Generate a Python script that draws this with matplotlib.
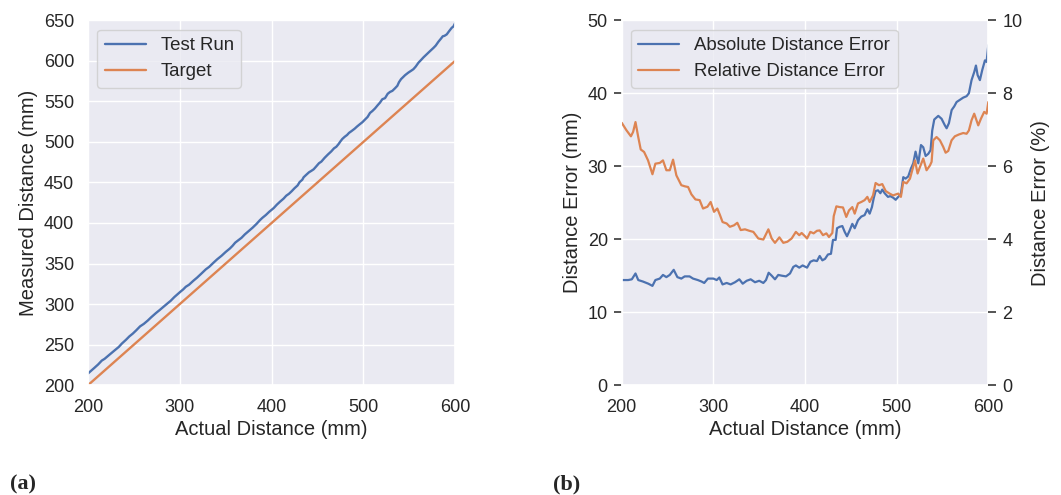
import matplotlib

matplotlib.use("Agg")
import matplotlib.pyplot as plt
import seaborn as sns

# absolute error trace (blue)
actual = [200, 207, 211, 215, 218, 223, 229, 233.5, 236.7, 241.5, 245, 248.7,
          252.4, 256.7, 260.7, 265, 268.7, 274, 277.8, 283, 287, 290, 294, 297.8,
          300, 303.6, 306.5, 310, 314.5, 318.8, 323.6, 328.3, 332, 336.3, 340.7,
          345.4, 350, 354.5, 357.4, 360.3, 363.6, 367.2, 370.8, 374.5, 379.2,
          383.6, 387.2, 390, 393.7, 397.4, 402.2, 405.8, 409.4, 413, 416, 418.9,
          421.8, 425, 428.3, 430.5, 433.4, 434.9, 437.8, 440.7, 443.3, 445.8,
          448.7, 451.6, 454.2, 457.8, 461.4, 465, 468, 470.5, 473, 474.9, 477,
          479.6, 482.2, 484.3, 486.9, 490.5, 493, 496, 498.9, 501.7, 504.6, 507.2,
          509.7, 512.6, 515.6, 518.1, 520.6, 523.6, 526.5, 529, 531.6, 534.5, 537,
          538.8, 541, 545.4, 549, 552.6, 554.5, 557, 560, 562.8, 565.4, 569, 572.6,
          576.3, 578.8, 581.7, 584.6, 586.5, 588.3, 590.8, 593.4, 596.3, 598.1, 600]
abs_error = [14.4, 14.4, 14.5, 15.3, 14.4, 14.2, 13.9, 13.6, 14.4, 14.6, 15.1, 14.8,
             15.1, 15.8, 14.8, 14.6, 14.9, 14.9, 14.6, 14.4, 14.2, 14.0, 14.6, 14.6,
             14.6, 14.4, 14.75, 13.8, 14.0, 13.8, 14.1, 14.5, 13.9, 14.3, 14.5,
             14.1, 14.3, 14.0, 14.4, 15.4, 15.0, 14.5, 15.1, 15.0, 14.9,
             15.3, 16.2, 16.4, 16.1, 16.4, 16.1, 16.9, 17.1, 17.0, 17.7, 17.1,
             17.3, 17.9, 18.0, 19.9, 19.9, 21.5, 21.7, 21.8, 21.0, 20.4,
             21.2, 22.1, 21.5, 22.6, 23.1, 23.3, 24.1, 23.5, 24.4, 25.6, 26.6,
             26.7, 26.3, 26.8, 26.3, 25.8, 25.9, 25.7, 25.4, 25.8, 26.2, 28.5,
             28.3, 28.6, 29.7, 30.4, 32.0, 30.4, 32.9, 32.6, 31.4, 31.7, 32.2,
             34.9, 36.4, 36.9, 36.5, 35.6, 35.2, 35.9, 37.7, 38.2, 38.8, 39.1, 39.4,
             39.6, 40.0, 41.8, 42.9, 43.8, 42.5, 41.8, 43.2, 44.5, 44.3, 46.6]

# measured distance for the test run (left panel), same actual positions
measured = [214.4, 221.4, 225.5, 230.3, 232.4, 237.2, 242.9, 247.1, 251.1, 256.1,
            260.1, 263.5, 267.5, 272.5, 275.5, 279.6, 283.6, 288.9, 292.4, 297.4,
            301.2, 304.0, 308.6, 312.4, 314.6, 318.0, 321.3, 323.8, 328.5, 332.6,
            337.7, 342.8, 345.9, 350.6, 355.2, 359.5, 364.3, 368.5, 371.8, 375.7,
            378.6, 381.7, 385.9, 389.5, 394.1, 398.9, 403.4, 406.4, 409.8, 413.8,
            418.3, 422.7, 426.5, 430.0, 433.7, 436.0, 439.1, 442.9, 446.3, 450.4,
            453.3, 456.4, 459.5, 462.5, 464.3, 466.2, 469.9, 473.7, 475.7, 480.4,
            484.5, 488.3, 492.1, 494.0, 497.4, 500.5, 503.6, 506.3, 508.5, 511.1,
            513.2, 516.3, 518.9, 521.7, 524.3, 527.5, 530.8, 535.7, 538.0, 541.2,
            545.3, 548.5, 552.6, 554.0, 559.4, 561.6, 563.0, 566.2, 569.2, 573.7,
            577.4, 582.3, 585.5, 588.2, 589.7, 592.9, 597.7, 601.0, 604.2, 608.1,
            612.0, 615.9, 618.8, 623.5, 627.5, 630.3, 630.8, 632.6, 636.6, 640.8,
            642.4, 646.6]

target_x = [200, 600]
target_y = [200, 600]

# relative error trace (orange)
rel_x = [200, 205, 210, 212.4, 215, 218, 220.7, 224.4, 228.7, 233.5, 236.7, 241.5,
         245, 248.7, 252.4, 256, 259.6, 265, 268.7, 272.4, 276, 280.4, 285, 288.7,
         293.5, 297, 300.7, 304.3, 307.2, 310, 314.5, 318, 322.5, 326.1, 329.8,
         334.5, 339.2, 343.6, 349, 354.5, 360, 363.6, 367.2, 372, 376.3, 380.7,
         385.4, 390, 393.7, 396.3, 400, 402.2, 405.8, 409.4, 413, 416, 419.6,
         423.3, 426.1, 429.8, 431.3, 434.2, 437.8, 441.4, 445, 448, 451.6, 454.2,
         457.8, 461.4, 465, 468, 470.5, 474.2, 477, 480.7, 484.3, 488, 492.3, 496,
         501.7, 504.6, 507.2, 510.8, 514.5, 517, 520, 522.8, 525.4, 529, 532.6,
         536.3, 538.1, 539.9, 543.5, 547.2, 550.8, 553.4, 556.3, 559.9, 563.5,
         567.9, 572.6, 576.3, 578.8, 581.7, 584.6, 586.8, 589, 591.9, 595.5,
         598.1, 600]
rel_error = [7.19, 6.99, 6.82, 6.94, 7.21, 6.80, 6.46, 6.39, 6.16, 5.78, 6.07, 6.09,
             6.16, 5.89, 5.89, 6.18, 5.75, 5.48, 5.45, 5.43, 5.23, 5.09, 5.07, 4.84,
             4.89, 5.02, 4.75, 4.84, 4.66, 4.47, 4.43, 4.34, 4.38, 4.45, 4.25,
             4.27, 4.23, 4.20, 4.02, 3.99, 4.27, 4.02, 3.90, 4.05, 3.90, 3.93,
             4.02, 4.20, 4.11, 4.17, 4.08, 4.02, 4.20, 4.16, 4.23, 4.24, 4.11,
             4.16, 4.06, 4.17, 4.63, 4.90, 4.88, 4.87, 4.61, 4.79, 4.88, 4.70,
             4.98, 5.02, 5.07, 5.16, 5.02, 5.20, 5.54, 5.48, 5.51, 5.32, 5.25, 5.20,
             5.25, 5.16, 5.57, 5.53, 5.66, 5.89, 6.16, 5.80, 5.98, 6.21, 5.89,
             6.02, 6.12, 6.71, 6.80, 6.71, 6.53, 6.37, 6.42, 6.71, 6.82,
             6.87, 6.91, 6.89, 6.98, 7.26, 7.44, 7.28, 7.12, 7.30, 7.49,
             7.44, 7.76]

sns.set_theme(style="darkgrid", font_scale=1.2)
plt.rcParams["font.family"] = ["Liberation Sans", "DejaVu Sans"]

blue, orange = sns.color_palette("deep")[:2]

fig = plt.figure(figsize=(10.61, 4.95), dpi=100)
ax1 = fig.add_axes([0.083, 0.222, 0.346, 0.737])
ax2 = fig.add_axes([0.586, 0.222, 0.3455, 0.737])

# (a) measured vs actual
ax1.plot(actual, measured, color=blue, lw=1.7, label="Test Run")
ax1.plot(target_x, target_y, color=orange, lw=1.7, label="Target")
ax1.set_xlim(200, 600)
ax1.set_ylim(200, 650)
ax1.set_xticks(range(200, 601, 100))
ax1.set_yticks(range(200, 651, 50))
ax1.set_xlabel("Actual Distance (mm)", fontsize=14.5, labelpad=3)
ax1.set_ylabel("Measured Distance (mm)", fontsize=14.5, labelpad=4)
ax1.tick_params(labelsize=13, pad=4)
ax1.legend(loc="upper left", fontsize=13.4, handlelength=2.2)

# (b) absolute and relative error
l1, = ax2.plot(actual, abs_error, color=blue, lw=1.6, label="Absolute Distance Error")
ax3 = ax2.twinx()
l2, = ax3.plot(rel_x, rel_error, color=orange, lw=1.6, label="Relative Distance Error")
ax3.grid(False)
ax2.set_xlim(200, 600)
ax2.set_ylim(0, 50)
ax3.set_ylim(0, 10)
ax2.set_xticks(range(200, 601, 100))
ax2.set_yticks(range(0, 51, 10))
ax3.set_yticks(range(0, 11, 2))
ax2.set_xlabel("Actual Distance (mm)", fontsize=14.5, labelpad=3)
ax2.set_ylabel("Distance Error (mm)", fontsize=14.5, labelpad=4)
ax3.set_ylabel("Distance Error (%)", fontsize=14.5, labelpad=6)
ax2.tick_params(axis="both", labelsize=13, pad=4)
ax2.tick_params(axis="y", left=True, length=6, width=1.1, color="#262626")
ax3.tick_params(axis="y", right=True, labelsize=13, length=6, width=1.1,
                color="#262626", pad=4)
for s in ax3.spines.values():
    s.set_visible(False)
ax3.legend([l1, l2], [l1.get_label(), l2.get_label()], loc="upper left",
           fontsize=13.4, handlelength=2.2)

fig.text(0.009, 0.012, "(a)", fontsize=16, fontweight="bold",
         family=["Liberation Serif", "DejaVu Serif"])
fig.text(0.521, 0.012, "(b)", fontsize=16, fontweight="bold",
         family=["Liberation Serif", "DejaVu Serif"])

fig.savefig("out.png", dpi=100)
